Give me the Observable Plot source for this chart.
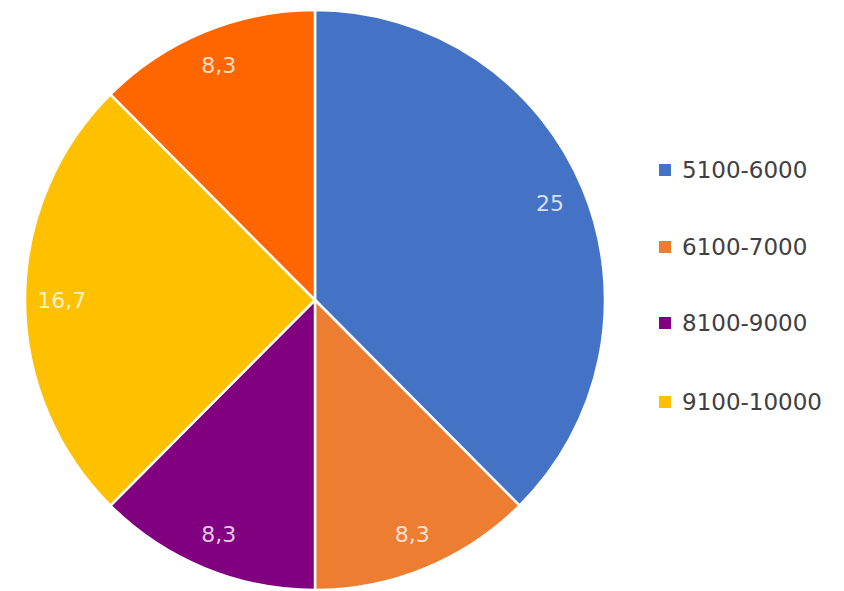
<!DOCTYPE html>
<html><head><meta charset="utf-8">
<script src="https://cdn.jsdelivr.net/npm/d3@7"></script>
<script src="https://cdn.jsdelivr.net/npm/@observablehq/plot@0.6"></script>
<style>
body{margin:0;background:#fff;font-family:"DejaVu Sans",sans-serif;}
#wrap{position:relative;width:844px;height:591px;overflow:hidden;}
#legend{position:absolute;left:0;top:0;}
.item{position:absolute;left:659px;height:24px;display:flex;align-items:center;font-size:23px;color:#404040;white-space:nowrap;font-family:"DejaVu Sans",sans-serif;}
.sw{width:12px;height:12px;margin-right:11px;flex:none;}
</style>
</head><body>
<div id="wrap"><div id="chart"></div><div id="legend"></div></div>
<script>
const categories = ["5100-6000","6100-7000","8100-9000","9100-10000","other"];
const values = [25, 8.3, 8.3, 16.7, 8.3];
const labels = ["25","8,3","8,3","16,7","8,3"];
const colors = ["#4472C4","#ED7D31","#800080","#FFC000","#FF6600"];
const legendCats = ["5100-6000","6100-7000","8100-9000","9100-10000"];
const legendCenters = [170, 247, 323, 402];

const data = categories.map((c,i)=>({cat:c, value:values[i], label:labels[i], color:colors[i]}));
const arcs = d3.pie().sort(null).value(d=>d.value)(data);
const labelR = 0.875;
const labelData = arcs.map(a=>{
  const m = (a.startAngle+a.endAngle)/2;
  return {x: labelR*Math.sin(m), y: labelR*Math.cos(m), label:a.data.label};
});

function pieMark(index, scales, values, dimensions, context){
  const cx = scales.x(0), cy = scales.y(0);
  const r = Math.abs(scales.x(1)-scales.x(0));
  const g = d3.create("svg:g").attr("transform",`translate(${cx},${cy})`);
  const arc = d3.arc().innerRadius(0).outerRadius(r);
  g.selectAll("path").data(arcs).join("path")
    .attr("d", arc).attr("fill", d=>d.data.color)
    .attr("stroke","#fff").attr("stroke-width",2.5).attr("stroke-linejoin","round");
  return g.node();
}

const chart = Plot.plot({
  width:844, height:591,
  margin:0,
  x:{domain:[-1,1], range:[25,605], axis:null},
  y:{domain:[-1,1], range:[590,10], axis:null},
  style:{background:"#fff", fontFamily:"'DejaVu Sans',sans-serif"},
  marks:[
    pieMark,
    Plot.text(labelData,{x:"x",y:"y",text:"label",fill:"#fff",fillOpacity:0.8,fontSize:22})
  ]
});
document.getElementById("chart").appendChild(chart);

const leg = document.getElementById("legend");
legendCats.forEach((c,i)=>{
  const it = document.createElement("div");
  it.className="item";
  it.style.top = (legendCenters[i]-12)+"px";
  it.innerHTML = `<span class="sw" style="background:${colors[categories.indexOf(c)]}"></span><span>${c}</span>`;
  leg.appendChild(it);
});
</script>
</body></html>
